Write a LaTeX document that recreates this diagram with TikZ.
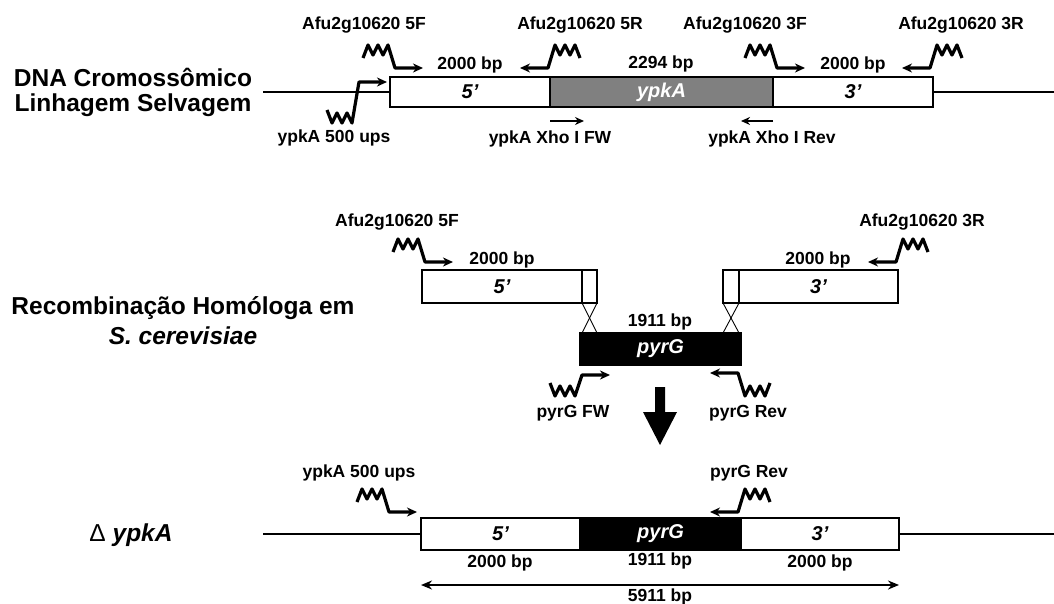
\documentclass[tikz,border=0pt]{standalone}
\usepackage{fontspec}
\setmainfont{Liberation Sans}
\usetikzlibrary{arrows.meta}
\definecolor{genegray}{RGB}{128,128,128}
\begin{document}
\begin{tikzpicture}[x=1pt,y=-1pt,
  lbl/.style={font=\fontsize{17.5}{20}\selectfont\bfseries, inner sep=0pt},
  big/.style={font=\fontsize{24.5}{28}\selectfont\bfseries, inner sep=0pt},
  seg/.style={draw, line width=1.3pt, inner sep=0pt, outer sep=0pt,
    font=\fontsize{20}{22}\selectfont\bfseries\itshape},
  flank/.style={seg, fill=white},
  graygene/.style={seg, fill=genegray, text=white},
  blackgene/.style={seg, fill=black, text=white},
  dna/.style={line width=2.4pt},
  primerline/.style={line width=3.2pt, line join=round,
    -{Stealth[length=10pt,width=9pt]}},
  xho/.style={line width=2.4pt, -{Stealth[length=9pt,width=8pt]}},
  cross/.style={line width=0.9pt},
  dim/.style={line width=2.2pt, {Stealth[length=11pt,width=9pt]}-{Stealth[length=11pt,width=9pt]}},
  pics/primer/.style={code={
    \draw[primerline] (0,0) -- (5,-13) -- (10,-3) -- (15,-13) -- (20,-3)
      -- (25,-13) -- (32,#1) -- (60,#1);}}
]
\useasboundingbox (0,0) rectangle (1054,604);

% ---------- left labels ----------
\node[big] (lab1a) at (133,77) {DNA Cromossômico};
\node[big] (lab1b) at (133,105) {Linhagem Selvagem};
\node[big] (lab2a) at (183,308) {Recombinação Homóloga em};
\node[big, font=\fontsize{24.5}{28}\selectfont\bfseries\itshape] (lab2b) at (183,336) {S. cerevisiae};
\node[big] (lab3) at (131,535) {{\mdseries Δ} \textit{ypkA}};

% ---------- top: wild type ----------
\node[flank, minimum width=160pt, minimum height=30pt] (t5) at (470,92) {5’};
\node[graygene, minimum width=223pt, minimum height=30pt] (tg) at (661.5,92) {ypkA};
\node[flank, minimum width=160pt, minimum height=30pt] (t3) at (853,92) {3’};
\coordinate (tl) at (263,92);
\coordinate (tr) at (1054,92);
\draw[dna] (tl) -- (t5.west);
\draw[dna] (t3.east) -- (tr);

\node[lbl] (p5F) at (364,25) {Afu2g10620 5F};
\node[lbl] (p5R) at (580,25) {Afu2g10620 5R};
\node[lbl] (p3F) at (745,25) {Afu2g10620 3F};
\node[lbl] (p3R) at (961,25) {Afu2g10620 3R};
\node[lbl] (bp1) at (470,65) {2000 bp};
\node[lbl] (bp2) at (661,64) {2294 bp};
\node[lbl] (bp3) at (853,65) {2000 bp};

\pic at (363,58) {primer=10};
\pic[xscale=-1] at (580,58) {primer=10};
\pic at (745,58) {primer=10};
\pic[xscale=-1] at (962,58) {primer=10};
\pic[yscale=-1] at (327,110) {primer=28};

\node[lbl] (ups1) at (334,138) {ypkA 500 ups};
\coordinate (xf1) at (550,121);
\coordinate (xf2) at (584,121);
\coordinate (xr1) at (773,121);
\coordinate (xr2) at (741,121);
\draw[xho] (xf1) -- (xf2);
\draw[xho] (xr1) -- (xr2);
\node[lbl] (xfl) at (550,139) {ypkA Xho I FW};
\node[lbl] (xrl) at (772,139) {ypkA Xho I Rev};

% ---------- middle: recombination ----------
\node[flank, minimum width=160pt, minimum height=33pt] (m5) at (502,286.5) {5’};
\node[flank, minimum width=15pt, minimum height=33pt] (m5s) at (589.5,286.5) {};
\node[flank, minimum width=16pt, minimum height=33pt] (m3s) at (731,286.5) {};
\node[flank, minimum width=159pt, minimum height=33pt] (m3) at (818.5,286.5) {3’};
\node[blackgene, minimum width=161pt, minimum height=32pt] (mg) at (660.5,349) {pyrG};
\draw[cross] (m5s.south west) -- (m5s.south east |- mg.north);
\draw[cross] (m5s.south east) -- (m5s.south west |- mg.north);
\draw[cross] (m3s.south west) -- (m3s.south east |- mg.north);
\draw[cross] (m3s.south east) -- (m3s.south west |- mg.north);

\node[lbl] (mp5F) at (397,222) {Afu2g10620 5F};
\node[lbl] (mp3R) at (922,222) {Afu2g10620 3R};
\node[lbl] (mbp1) at (502,260) {2000 bp};
\node[lbl] (mbp3) at (818,260) {2000 bp};
\node[lbl] (mbp2) at (660,322) {1911 bp};
\pic at (393,252) {primer=10};
\pic[xscale=-1] at (928,252) {primer=10};
\pic[yscale=-1] at (550,383) {primer=8};
\pic[xscale=-1,yscale=-1] at (770,383) {primer=10};
\node[lbl] (pfw) at (573,413) {pyrG FW};
\node[lbl] (prev) at (748,413) {pyrG Rev};

% big arrow
\fill (655,387) -- (665,387) -- (665,412) -- (677,412) -- (660,445)
  -- (643,412) -- (655,412) -- cycle;

% ---------- bottom: deletion ----------
\node[flank, minimum width=159pt, minimum height=32pt] (b5) at (500.5,534) {5’};
\node[blackgene, minimum width=161pt, minimum height=32pt] (bg) at (660.5,534) {pyrG};
\node[flank, minimum width=158pt, minimum height=32pt] (b3) at (820,534) {3’};
\coordinate (bl) at (263,534);
\coordinate (br) at (1054,534);
\draw[dna] (bl) -- (b5.west);
\draw[dna] (b3.east) -- (br);

\node[lbl] (bups) at (359,473) {ypkA 500 ups};
\node[lbl] (brev) at (749,473) {pyrG Rev};
\pic at (357,502) {primer=10};
\pic[xscale=-1] at (770,502) {primer=10};

\node[lbl] (bbp1) at (500,563) {2000 bp};
\node[lbl] (bbp2) at (660,561) {1911 bp};
\node[lbl] (bbp3) at (820,563) {2000 bp};
\coordinate (dl) at (421,585);
\coordinate (dr) at (899,585);
\draw[dim] (dl) -- (dr);
\node[lbl] (tot) at (660,597) {5911 bp};
\end{tikzpicture}
\end{document}
